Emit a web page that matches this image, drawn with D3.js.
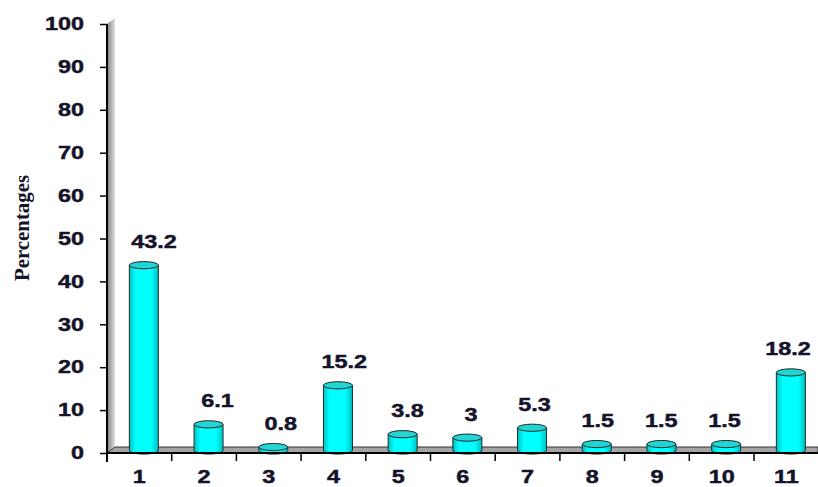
<!DOCTYPE html>
<html>
<head>
<meta charset="utf-8">
<script src="https://cdn.jsdelivr.net/npm/d3@7"></script>
<style>
  html, body { margin: 0; padding: 0; background: #fff; }
  svg { display: block; }
</style>
</head>
<body>
<svg id="chart" width="818" height="487"></svg>
<script>
// Category labels along the x axis
const categories = ["1", "2", "3", "4", "5", "6", "7", "8", "9", "10", "11"];
// Percentage for each category
const percentages = [43.2, 6.1, 0.8, 15.2, 3.8, 3, 5.3, 1.5, 1.5, 1.5, 18.2];
// Value labels printed above the cylinders
const valueLabels = ["43.2", "6.1", "0.8", "15.2", "3.8", "3", "5.3", "1.5", "1.5", "1.5", "18.2"];
// Y axis tick values
const yTicks = [0, 10, 20, 30, 40, 50, 60, 70, 80, 90, 100];
const yTitle = "Percentages";

const svg = d3.select("#chart");
const W = 818, H = 487;
const plotLeft = 107, plotBottom = 453, plotTop = 24;
const step = 64.7;
const textColor = "#15132a";
const numFont = "Liberation Sans, Arial, sans-serif";
const numSize = 18;
const stretch = 1.3;   // numbers are set in a widened bold sans

const x = d3.scaleBand().domain(categories).range([plotLeft, plotLeft + step * categories.length]).padding(0);
const y = d3.scaleLinear().domain([0, 100]).range([plotBottom, plotTop]);
// value labels sit on their own, slightly tighter, spread
const labelX = d3.scalePoint().domain(categories).range([154, 788]);

// depth of the 3-D wall and floor, and where the cylinders stand within it
const depthX = 8, depthY = -6;
const barDX = 4.5, barDY = -2.5;
const rx = 14.5, ry = 3.6;

// widen a text selection horizontally around its own anchor, with a heavier stroke
function widen(sel) {
  sel.each(function () {
    const t = d3.select(this);
    const x0 = +(t.attr("x") || 0);
    t.attr("x", x0 / stretch).attr("transform", `scale(${stretch},1)`)
      .attr("stroke", textColor).attr("stroke-width", 0.45);
  });
}

const defs = svg.append("defs");
const wallGrad = defs.append("linearGradient").attr("id", "wallGrad")
  .attr("x1", "0").attr("x2", "1").attr("y1", "0").attr("y2", "0");
wallGrad.append("stop").attr("offset", "0%").attr("stop-color", "#808080");
wallGrad.append("stop").attr("offset", "100%").attr("stop-color", "#e0e0e0");

const cylGrad = defs.append("linearGradient").attr("id", "cylGrad")
  .attr("x1", "0").attr("x2", "1").attr("y1", "0").attr("y2", "0");
cylGrad.append("stop").attr("offset", "0%").attr("stop-color", "#00c4c4");
cylGrad.append("stop").attr("offset", "22%").attr("stop-color", "#00ffff");
cylGrad.append("stop").attr("offset", "75%").attr("stop-color", "#00ffff");
cylGrad.append("stop").attr("offset", "100%").attr("stop-color", "#00c0c0");

// back wall (left side)
svg.append("path")
  .attr("d", `M${plotLeft},${y(100)} L${plotLeft + depthX},${y(100) + depthY} L${plotLeft + depthX},${plotBottom + depthY} L${plotLeft},${plotBottom} Z`)
  .attr("fill", "url(#wallGrad)");

// floor
svg.append("path")
  .attr("d", `M${plotLeft},${plotBottom} L${plotLeft + depthX},${plotBottom + depthY} L${W},${plotBottom + depthY} L${W},${plotBottom} Z`)
  .attr("fill", "#a4a4a4")
  .attr("stroke", "#333")
  .attr("stroke-width", 1);

// cylinders
const bars = svg.append("g").selectAll("g").data(percentages).join("g");
bars.each(function (v, i) {
  const g = d3.select(this);
  const cx = x(categories[i]) + x.bandwidth() / 2 + barDX;
  const yb = y(0) + barDY;
  const yt = y(v) + barDY;
  g.append("path")
    .attr("d", `M${cx - rx},${yt} L${cx - rx},${yb} A${rx},${ry} 0 0 0 ${cx + rx},${yb} L${cx + rx},${yt} Z`)
    .attr("fill", "url(#cylGrad)")
    .attr("stroke", "#1e2a2a")
    .attr("stroke-width", 1);
  g.append("ellipse")
    .attr("cx", cx).attr("cy", yt).attr("rx", rx).attr("ry", ry)
    .attr("fill", "#22d4d4")
    .attr("stroke", "#1e2a2a")
    .attr("stroke-width", 1);
});

// value labels
svg.append("g").selectAll("g").data(percentages).join("g")
  .attr("transform", (v, i) => `translate(${labelX(categories[i])},${y(v) + barDY - 17})`)
  .append("text")
  .attr("text-anchor", "middle")
  .attr("font-family", numFont)
  .attr("font-weight", "bold")
  .attr("font-size", numSize)
  .attr("fill", textColor)
  .text((v, i) => valueLabels[i])
  .call(widen);

// y axis
const yAxis = svg.append("g")
  .attr("transform", `translate(${plotLeft},0)`)
  .call(d3.axisLeft(y).tickValues(yTicks).tickSize(7).tickPadding(16).tickFormat(d3.format("d")));
yAxis.select(".domain").attr("stroke", "#000").attr("stroke-width", 2)
  .attr("d", `M0,${y(100)}V${plotBottom + 9}`);
yAxis.selectAll(".tick line").attr("stroke", "#000").attr("stroke-width", 1.5);
yAxis.selectAll(".tick text")
  .attr("font-family", numFont)
  .attr("font-weight", "bold")
  .attr("font-size", numSize)
  .attr("fill", textColor)
  .call(widen);

// x axis
const xAxis = svg.append("g")
  .attr("transform", `translate(0,${plotBottom})`)
  .call(d3.axisBottom(x).tickSize(0).tickPadding(17));
xAxis.select(".domain").attr("stroke", "#000").attr("stroke-width", 2)
  .attr("d", `M${plotLeft},0H${W}`);
xAxis.selectAll(".tick text")
  .attr("font-family", numFont)
  .attr("font-weight", "bold")
  .attr("font-size", numSize)
  .attr("fill", textColor)
  .call(widen);
// tick marks at category boundaries
xAxis.append("g").selectAll("line").data(categories.slice(1)).join("line")
  .attr("x1", d => x(d)).attr("x2", d => x(d))
  .attr("y1", 0).attr("y2", 8)
  .attr("stroke", "#000").attr("stroke-width", 1.5);

// y axis title
svg.append("text")
  .attr("transform", `translate(29,${228}) rotate(-90)`)
  .attr("text-anchor", "middle")
  .attr("font-family", "Liberation Serif, Times New Roman, serif")
  .attr("font-weight", "bold")
  .attr("font-size", 21)
  .attr("textLength", 106)
  .attr("lengthAdjust", "spacingAndGlyphs")
  .attr("fill", textColor)
  .text(yTitle);
</script>
</body>
</html>
